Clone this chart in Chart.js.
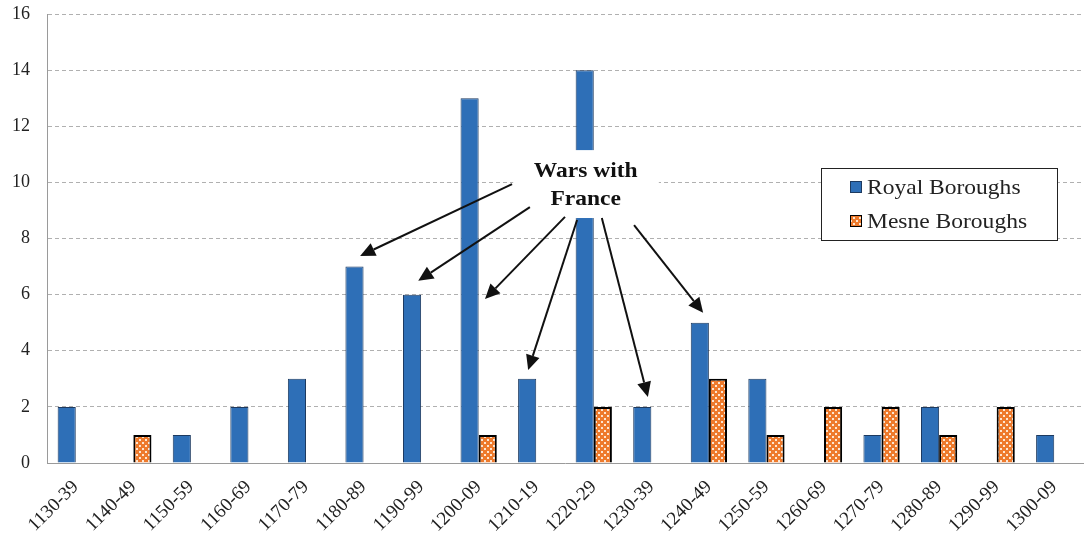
<!DOCTYPE html>
<html>
<head>
<meta charset="utf-8">
<script src="https://cdn.jsdelivr.net/npm/chart.js"></script>
<style>
  body { margin: 0; background: #fff; }
  #wrap { width: 1084px; height: 541px; }
</style>
</head>
<body>
<div id="wrap"><canvas id="myChart"></canvas></div>
<script>
var decades = ['1130-39','1140-49','1150-59','1160-69','1170-79','1180-89','1190-99','1200-09','1210-19',
  '1220-29','1230-39','1240-49','1250-59','1260-69','1270-79','1280-89','1290-99','1300-09'];
var royal = [2,0,1,2,3,7,6,13,3,14,2,5,3,0,1,2,0,1];
var mesne = [0,1,0,0,0,0,0,1,0,2,0,3,1,2,2,1,2,0];
var yTicks = [0,2,4,6,8,10,12,14,16];

// note text and arrows, in (category index, value) units
var noteLines = ['Wars with', 'France'];
var noteAt = [8.86, 10.37];
var noteBox = [7.6, 11.15, 10.13, 8.73];
var arrows = [
  [7.58, 9.94, 4.94, 7.38],
  [7.89, 9.12, 5.95, 6.49],
  [8.50, 8.77, 7.11, 5.84],
  [8.71, 8.66, 7.86, 3.31],
  [9.14, 8.73, 9.94, 2.35],
  [9.70, 8.48, 10.90, 5.35]
];

const SERIF = "'Liberation Serif', 'Times New Roman', serif";
const STRETCH = 1.12; // the source text is a bit wide

function dotPattern() {
  const c = document.createElement('canvas');
  c.width = 6; c.height = 6;
  const g = c.getContext('2d');
  g.fillStyle = '#ee7a2c';
  g.fillRect(0, 0, 6, 6);
  g.fillStyle = '#fde6d2';
  g.fillRect(1, 1, 2, 2);
  g.fillRect(4, 4, 2, 2);
  return g.createPattern(c, 'repeat');
}
const mesneFill = dotPattern();

// index value -> pixel, using the chart's scales
function px(chart, i, v) {
  const xs = chart.scales.x, ys = chart.scales.y;
  const step = xs.getPixelForValue(1) - xs.getPixelForValue(0);
  return [xs.getPixelForValue(0) + i * step, ys.getPixelForValue(v)];
}

function wideText(ctx, s, x, y) {
  ctx.save();
  ctx.translate(x, y);
  ctx.scale(STRETCH, 1);
  ctx.fillText(s, 0, 0);
  ctx.restore();
}

const notePlugin = {
  id: 'notes',
  afterDatasetsDraw(chart) {
    const ctx = chart.ctx;
    ctx.save();
    const a = px(chart, noteBox[0], noteBox[1]);
    const b = px(chart, noteBox[2], noteBox[3]);
    ctx.fillStyle = '#fff';
    ctx.fillRect(a[0], a[1], b[0] - a[0], b[1] - a[1]);

    ctx.fillStyle = '#111';
    ctx.font = 'bold 21px ' + SERIF;
    ctx.textAlign = 'center';
    ctx.textBaseline = 'middle';
    const t = px(chart, noteAt[0], noteAt[1]);
    noteLines.forEach((s, k) => wideText(ctx, s, t[0], t[1] + k * 28));

    ctx.strokeStyle = '#111';
    ctx.lineWidth = 2;
    arrows.forEach(ar => {
      const p0 = px(chart, ar[0], ar[1]);
      const p1 = px(chart, ar[2], ar[3]);
      const ang = Math.atan2(p1[1] - p0[1], p1[0] - p0[0]);
      const len = 15, half = 7;
      const bx = p1[0] - len * Math.cos(ang), by = p1[1] - len * Math.sin(ang);
      ctx.beginPath();
      ctx.moveTo(p0[0], p0[1]);
      ctx.lineTo(bx, by);
      ctx.stroke();
      ctx.beginPath();
      ctx.moveTo(p1[0], p1[1]);
      ctx.lineTo(bx + half * Math.sin(ang), by - half * Math.cos(ang));
      ctx.lineTo(bx - half * Math.sin(ang), by + half * Math.cos(ang));
      ctx.closePath();
      ctx.fill();
    });

    // legend box
    const lx = 821, ly = 168, lw = 236, lh = 72;
    ctx.fillStyle = '#fff';
    ctx.fillRect(lx, ly, lw, lh);
    ctx.lineWidth = 1;
    ctx.strokeStyle = '#222';
    ctx.strokeRect(lx + 0.5, ly + 0.5, lw, lh);
    ctx.font = '21px ' + SERIF;
    ctx.textAlign = 'left';
    chart.data.datasets.forEach((ds, k) => {
      const yy = ly + 19 + k * 34;
      ctx.fillStyle = ds.backgroundColor;
      ctx.fillRect(850, yy - 6, 12, 12);
      ctx.lineWidth = 1;
      ctx.strokeStyle = k ? '#000' : ds.borderColor;
      ctx.strokeRect(850.5, yy - 5.5, 11, 11);
      ctx.fillStyle = '#222';
      wideText(ctx, ds.label, 867, yy + 1);
    });
    ctx.restore();
  }
};

new Chart(document.getElementById('myChart').getContext('2d'), {
  type: 'bar',
  data: {
    labels: decades,
    datasets: [{
      label: 'Royal Boroughs',
      data: royal,
      backgroundColor: '#2e6fb7',
      borderColor: '#1d3a60',
      borderWidth: 1
    }, {
      label: 'Mesne Boroughs',
      data: mesne,
      backgroundColor: mesneFill,
      borderColor: '#000',
      borderWidth: 2
    }]
  },
  options: {
    responsive: true,
    maintainAspectRatio: false,
    animation: false,
    layout: { padding: { top: 14, right: 1 } },
    plugins: { legend: { display: false }, tooltip: { enabled: false } },
    datasets: { bar: { categoryPercentage: 0.63, barPercentage: 1 } },
    scales: {
      x: {
        grid: { display: false },
        border: { display: true, color: '#9a9a9a', width: 1 },
        ticks: {
          color: '#222', font: { family: SERIF, size: 19 },
          maxRotation: 45, minRotation: 45, padding: 5, autoSkip: false
        },
        afterFit: s => { s.height = 78; s.paddingLeft = 0; s.paddingRight = 0; }
      },
      y: {
        min: 0, max: 16,
        afterBuildTicks: s => { s.ticks = yTicks.map(v => ({ value: v })); },
        grid: { color: '#b0b0b0', drawTicks: false },
        border: { display: true, color: '#9a9a9a', dash: [4, 3] },
        ticks: { color: '#222', font: { family: SERIF, size: 18 }, padding: 17 },
        afterFit: s => { s.width = 47; s.paddingTop = 0; s.paddingBottom = 0; }
      }
    }
  },
  plugins: [notePlugin]
});
</script>
</body>
</html>
